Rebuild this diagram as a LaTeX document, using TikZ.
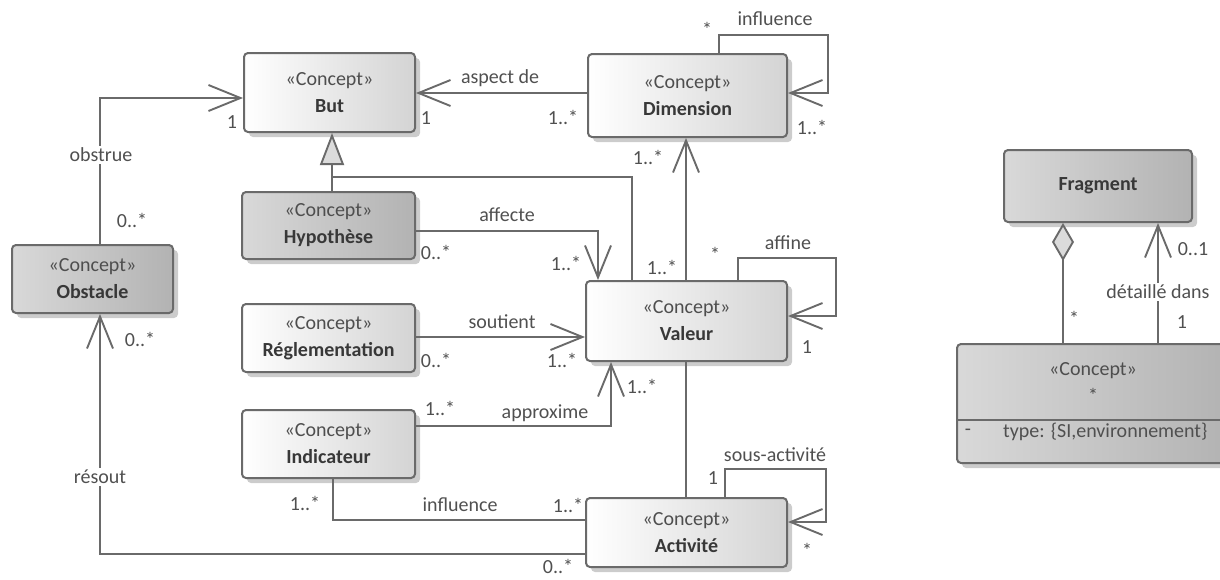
\documentclass[tikz,border=0pt]{standalone}
\usepackage{fontspec}
\setmainfont{Carlito}
\usetikzlibrary{arrows.meta,shadows}
\definecolor{linec}{HTML}{6A6A6A}
\definecolor{namec}{HTML}{383838}
\definecolor{stc}{HTML}{4E4E4E}
\definecolor{labc}{HTML}{505050}
\newcommand{\stereo}{{\color{stc}«Concept»}}

\begin{document}
\begin{tikzpicture}[x=1pt,y=-1pt,
  every node/.style={font=\fontsize{20}{27}\selectfont, text=labc},
  cbox/.style={draw=linec, line width=2pt, rounded corners=4pt, align=center, text=namec,
    drop shadow={shadow xshift=5pt, shadow yshift=-5pt, fill=black!20, opacity=1}},
  light/.style={cbox, left color=white, middle color=white!94!black, right color=white!83!black},
  dark/.style={cbox, left color=white!85!black, middle color=white!80!black, right color=white!70!black},
  conn/.style={draw=linec, line width=1.9pt},
  assoc/.style={conn, -{Straight Barb[length=32pt,width=26pt]}},
  gen/.style={conn, -{Triangle[length=32pt,width=24pt,fill=white!86!black]}},
  agg/.style={conn, {Diamond[length=38pt,width=22pt,fill=white!86!black]}-},
  lab/.style={inner sep=1pt},
  cut/.style={fill=white, inner sep=2pt},
]
\useasboundingbox (0,0) rectangle (1220,579);

% classes
\node[light, minimum width=171pt, minimum height=79pt] (but) at (329.5,92.5) {\stereo\\\textbf{But}};
\node[light, minimum width=199pt, minimum height=83pt] (dim) at (687.5,95.5) {\stereo\\\textbf{Dimension}};
\node[dark, minimum width=173pt, minimum height=67pt] (hyp) at (328.5,225.5) {\stereo\\\textbf{Hypothèse}};
\node[dark, minimum width=161pt, minimum height=68pt] (obs) at (92.5,279) {\stereo\\\textbf{Obstacle}};
\node[light, minimum width=173pt, minimum height=68pt] (reg) at (328.5,338) {\stereo\\\textbf{Réglementation}};
\node[light, minimum width=173pt, minimum height=68pt] (ind) at (328.5,444) {\stereo\\\textbf{Indicateur}};
\node[light, minimum width=201pt, minimum height=80pt] (val) at (686.5,321) {\stereo\\\textbf{Valeur}};
\node[light, minimum width=201pt, minimum height=69pt] (act) at (686.5,532.5) {\stereo\\\textbf{Activité}};
\node[dark, minimum width=188pt, minimum height=72pt] (frag) at (1098,186) {\textbf{Fragment}};
\node[dark, minimum width=272pt, minimum height=119pt] (con) at (1093,403.5) {};
\coordinate (cdiv) at (0,420);
\draw[draw=linec, line width=2pt] (con.west |- cdiv) -- (con.east |- cdiv);
\node[align=center] (contitle) at (1093,383) {\stereo\\{\color{stc}*}};
\node (conminus) at (968,432) {-};
\node[anchor=west, inner sep=0pt] (conattr) at (1003,432) {type: \{SI,environnement\}};

% bend points
\coordinate (o1) at (100,98);
\coordinate (a1) at (0,93);
\coordinate (d1) at (719,35);
\coordinate (d2) at (828,93);
\coordinate (v1) at (686,0);
\coordinate (g1) at (332,177);
\coordinate (g2) at (632,0);
\coordinate (f1) at (598,231);
\coordinate (af1) at (738,258);
\coordinate (af2) at (836,316);
\coordinate (s1) at (0,337);
\coordinate (p1) at (611,426);
\coordinate (sa1) at (725,469);
\coordinate (sa2) at (826,522);
\coordinate (i1) at (333,520);
\coordinate (r1) at (100,554);
\coordinate (ag) at (1063,0);
\coordinate (dd) at (1158,0);

% connectors
\draw[assoc] (obs.north -| o1) |- (but.west |- o1);
\draw[assoc] (dim.west |- a1) -- (but.east |- a1);
\draw[assoc] (dim.north -| d1) -- (d1) -| (d2) -- (dim.east |- d2);
\draw[assoc] (val.north -| v1) -- (dim.south -| v1);
\draw[gen] (hyp.north -| g1) -- (but.south -| g1);
\draw[conn] (val.north -| g2) |- (g1);
\draw[assoc] (hyp.east |- f1) -| (val.north -| f1);
\draw[assoc] (val.north -| af1) -- (af1) -| (af2) -- (val.east |- af2);
\draw[assoc] (reg.east |- s1) -- (val.west |- s1);
\draw[assoc] (ind.east |- p1) -| (val.south -| p1);
\draw[conn] (val.south -| v1) -- (act.north -| v1);
\draw[assoc] (act.north -| sa1) -- (sa1) -| (sa2) -- (act.east |- sa2);
\draw[conn] (ind.south -| i1) |- (act.west |- i1);
\draw[assoc] (act.west |- r1) -| (obs.south -| r1);
\draw[agg] (frag.south -| ag) -- (con.north -| ag);
\draw[assoc] (con.north -| dd) -- (frag.south -| dd);

% association labels and multiplicities
\node[cut] (lobstrue) at (101,155) {obstrue};
\node[lab] (m1) at (232,122) {1};
\node[lab] (m2) at (132,220) {0..*};
\node[lab] (laspect) at (500,78) {aspect de};
\node[lab] (m3) at (426,118) {1};
\node[lab] (m4) at (563,117) {1..*};
\node[lab] (linfl1) at (775,19) {influence};
\node[lab] (m5) at (707,29) {*};
\node[lab] (m6) at (812,127) {1..*};
\node[lab] (m7) at (648,157) {1..*};
\node[lab] (m8) at (662,267) {1..*};
\node[lab] (laffine) at (788,243) {affine};
\node[lab] (m9) at (715,254) {*};
\node[lab] (m10) at (807,347) {1};
\node[lab] (laffecte) at (507,215) {affecte};
\node[lab] (m11) at (436,252) {0..*};
\node[lab] (m12) at (566,263) {1..*};
\node[lab] (lsoutient) at (502,322) {soutient};
\node[lab] (m13) at (436,360) {0..*};
\node[lab] (m14) at (562,360) {1..*};
\node[lab] (lapprox) at (545,413) {approxime};
\node[lab] (m15) at (440,408) {1..*};
\node[lab] (m16) at (642,386) {1..*};
\node[lab] (lsous) at (775,455) {sous-activité};
\node[lab] (m17) at (713,478) {1};
\node[lab] (m18) at (807,550) {*};
\node[lab] (linfl2) at (460,505) {influence};
\node[lab] (m19) at (305,503) {1..*};
\node[lab] (m20) at (568,505) {1..*};
\node[cut] (lresout) at (100,477) {résout};
\node[lab] (m21) at (140,339) {0..*};
\node[inner sep=0pt] (m22) at (558,566) {0..*};
\node[lab] (m23) at (1074,318) {*};
\node[lab] (m24) at (1193,249) {0..1};
\node[lab] (m25) at (1182,322) {1};
\node[cut] (ldetail) at (1158,292) {détaillé dans};
\end{tikzpicture}
\end{document}
